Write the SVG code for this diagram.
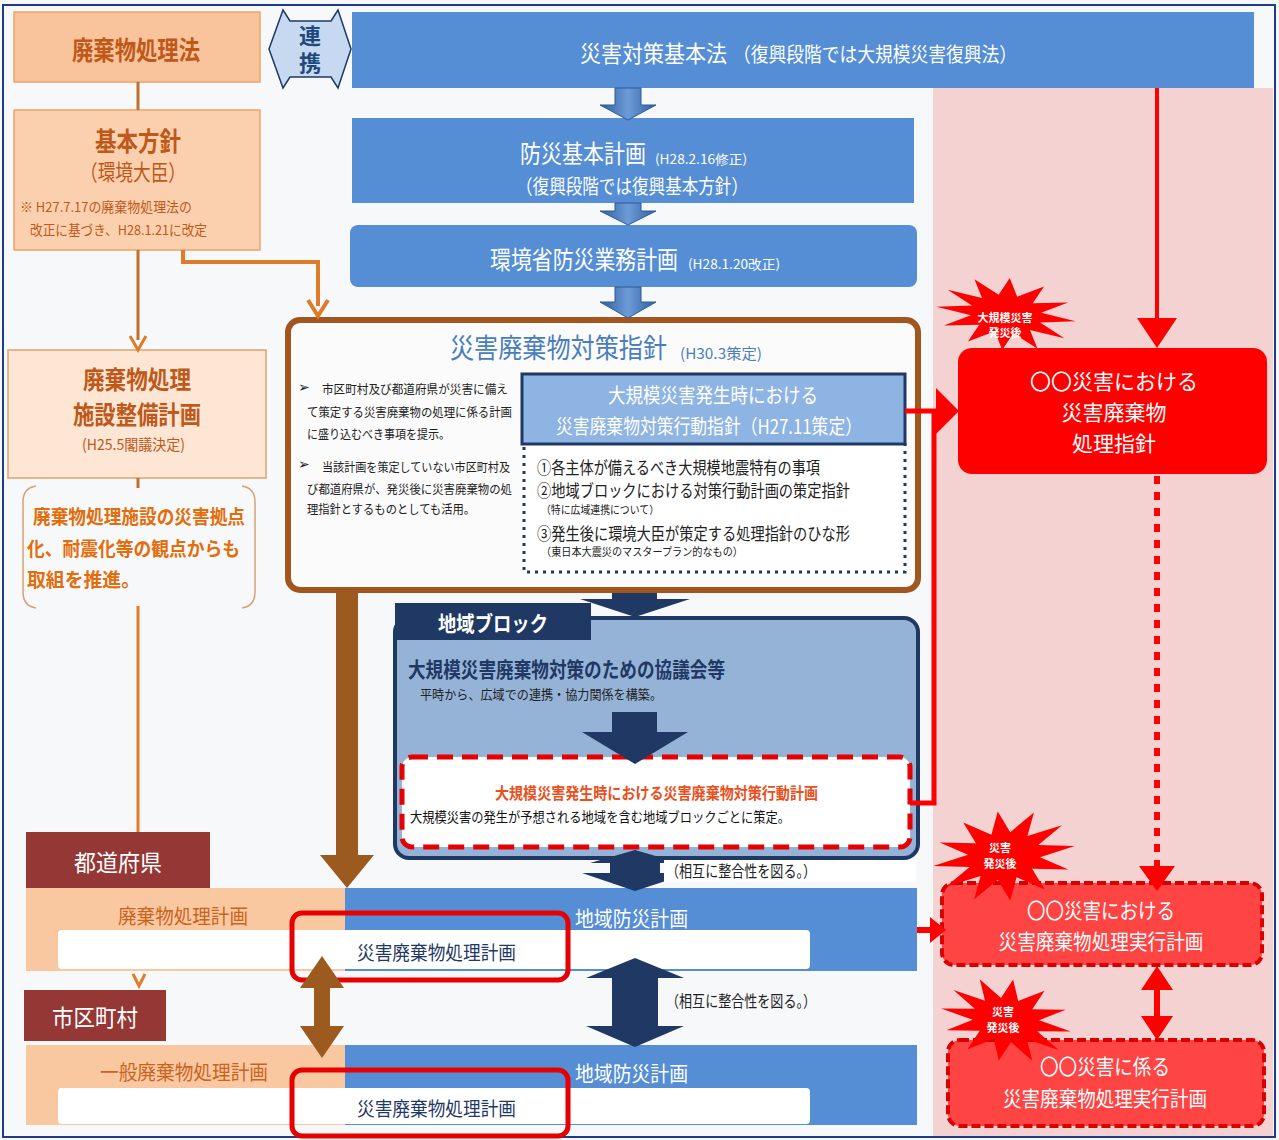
<svg xmlns="http://www.w3.org/2000/svg" width="1279" height="1140" viewBox="0 0 1279 1140">
<defs>
<style>
text{font-family:"Noto Sans CJK JP","Noto Sans CJK SC","DejaVu Sans",sans-serif;dominant-baseline:central}
.w{fill:#fff}
.bd{font-weight:bold}
.m{text-anchor:middle}
.or{fill:#c0581a}
.dk{fill:#222}
.nv{fill:#1f3864}
.blue{fill:#558ed5}
.peachband{fill:#fac8a0}
.pref{fill:#953735}
.redrr{fill:none;stroke:#e60000;stroke-width:5}
.burst{fill:#f00}
.rdash{fill:#f44;stroke:#d80000;stroke-width:4;stroke-dasharray:9 4}
.vert{writing-mode:vertical-rl;letter-spacing:5px}
</style>
<linearGradient id="ba" x1="0" x2="1" y1="0" y2="0"><stop offset="0" stop-color="#2f5f9f"/><stop offset="0.5" stop-color="#6d9bd8"/><stop offset="1" stop-color="#2f5f9f"/></linearGradient>
<path id="star" d="M70,0 L34.8,5.2 L60.6,19 L25.5,14.1 L35,32.9 L9.3,19.3 L0,38 L-9.3,19.3 L-35,32.9 L-25.5,14.1 L-60.6,19 L-34.8,5.2 L-70,0 L-34.8,-5.2 L-60.6,-19 L-25.5,-14.1 L-35,-32.9 L-9.3,-19.3 L0,-38 L9.3,-19.3 L35,-32.9 L25.5,-14.1 L60.6,-19 L34.8,-5.2 Z"/>
</defs>

<rect x="0" y="0" width="1279" height="1140" fill="#f7f8fa"/>
<rect x="933" y="88" width="340" height="1050" fill="#f5d2d2"/>
<rect x="3" y="5" width="1272" height="1132" fill="none" stroke="#1f3b8a" stroke-width="2"/>

<g id="haikibutsu-ho">
<rect x="14" y="12" width="246" height="70" fill="#f9c49b" stroke="#eda468" stroke-width="1.5"/>
<text x="72" y="48" class="or bd" font-size="26" textLength="128" lengthAdjust="spacingAndGlyphs">廃棄物処理法</text>
</g>

<g id="renkei">
<path d="M269,49 L283,10 L290,21 L331,21 L338,10 L351,49 L338,88 L331,77 L290,77 L283,88 Z" fill="#c6d9f1" stroke="#1f3864" stroke-width="1.5"/>
<text x="310" y="25" class="vert bd" font-size="22" fill="#1f497d">連携</text>
</g>

<g id="saigai-taisaku-kihonho">
<rect x="352" y="12" width="902" height="76" class="blue"/>
<text transform="translate(580,52) scale(1,1.08)" class="w" font-size="21" textLength="147" lengthAdjust="spacingAndGlyphs">災害対策基本法</text>
<text x="733" y="53" class="w" font-size="20" textLength="284" lengthAdjust="spacingAndGlyphs">（復興段階では大規模災害復興法）</text>
</g>

<g id="bousai-kihon-keikaku">
<rect x="352" y="118" width="562" height="85" class="blue"/>
<text transform="translate(520,152) scale(1,1.18)" class="w" font-size="21" textLength="126" lengthAdjust="spacingAndGlyphs">防災基本計画</text>
<text x="655" y="158" class="w" font-size="13" textLength="92" lengthAdjust="spacingAndGlyphs">(H28.2.16修正)</text>
<text x="516" y="185" class="w" font-size="20" textLength="232" lengthAdjust="spacingAndGlyphs">（復興段階では復興基本方針）</text>
</g>

<g id="kankyosho-bousai-gyomu-keikaku">
<rect x="350" y="225" width="567" height="62" rx="8" class="blue"/>
<text transform="translate(490,258) scale(1,1.19)" class="w" font-size="21" textLength="188" lengthAdjust="spacingAndGlyphs">環境省防災業務計画</text>
<text x="688" y="263" class="w" font-size="13" textLength="92" lengthAdjust="spacingAndGlyphs">(H28.1.20改正)</text>
</g>

<g id="kihon-houshin">
<rect x="14" y="110" width="246" height="140" fill="#fbd0ae" stroke="#eda468" stroke-width="1.5"/>
<text x="95" y="139" class="or bd" font-size="26" textLength="86" lengthAdjust="spacingAndGlyphs">基本方針</text>
<text x="80" y="170" class="or" font-size="22" textLength="106" lengthAdjust="spacingAndGlyphs">（環境大臣）</text>
<text x="20" y="206" class="or" font-size="13.5" textLength="172" lengthAdjust="spacingAndGlyphs">※ H27.7.17の廃棄物処理法の</text>
<text x="30" y="229" class="or" font-size="13.5" textLength="177" lengthAdjust="spacingAndGlyphs">改正に基づき、H28.1.21に改定</text>
</g>

<g id="shisetsu-seibi-keikaku">
<rect x="8" y="350" width="258" height="128" fill="#fde6d4" stroke="#e0a070" stroke-width="1.5"/>
<text x="83" y="378" class="or bd" font-size="25" textLength="108" lengthAdjust="spacingAndGlyphs">廃棄物処理</text>
<text x="73" y="413" class="or bd" font-size="25" textLength="128" lengthAdjust="spacingAndGlyphs">施設整備計画</text>
<text x="82" y="443" class="or" font-size="15" textLength="103" lengthAdjust="spacingAndGlyphs">(H25.5閣議決定)</text>
</g>

<g id="shisetsu-note">
<path d="M36,486 Q23,488 23,502 V592 Q23,606 36,608" fill="none" stroke="#d9a070" stroke-width="1.5"/>
<path d="M242,486 Q255,488 255,502 V592 Q255,606 242,608" fill="none" stroke="#d9a070" stroke-width="1.5"/>
<text x="33" y="515" class="bd" fill="#e46c0a" font-size="19" textLength="212" lengthAdjust="spacingAndGlyphs">廃棄物処理施設の災害拠点</text>
<text x="27" y="547" class="bd" fill="#e46c0a" font-size="19" textLength="213" lengthAdjust="spacingAndGlyphs">化、耐震化等の観点からも</text>
<text x="27" y="578" class="bd" fill="#e46c0a" font-size="19" textLength="113" lengthAdjust="spacingAndGlyphs">取組を推進。</text>
</g>

<g id="saigai-haikibutsu-taisaku-shishin">
<rect x="288" y="320" width="630" height="270" rx="12" fill="#fbfbfc" stroke="#a0561e" stroke-width="6"/>
<text transform="translate(450,346) scale(1,1.16)" font-size="24" fill="#4a7ebb" textLength="217" lengthAdjust="spacingAndGlyphs">災害廃棄物対策指針</text>
<text x="680" y="352" font-size="15" fill="#4a7ebb" textLength="82" lengthAdjust="spacingAndGlyphs">(H30.3策定)</text>
<text x="298" y="386" class="dk" font-size="14">➢</text>
<text x="322" y="388" class="dk" font-size="12.5" textLength="186" lengthAdjust="spacingAndGlyphs">市区町村及び都道府県が災害に備え</text>
<text x="307" y="411" class="dk" font-size="12.5" textLength="205" lengthAdjust="spacingAndGlyphs">て策定する災害廃棄物の処理に係る計画</text>
<text x="307" y="433" class="dk" font-size="12.5" textLength="143" lengthAdjust="spacingAndGlyphs">に盛り込むべき事項を提示。</text>
<text x="298" y="463" class="dk" font-size="14">➢</text>
<text x="322" y="466" class="dk" font-size="12.5" textLength="188" lengthAdjust="spacingAndGlyphs">当該計画を策定していない市区町村及</text>
<text x="307" y="488" class="dk" font-size="12.5" textLength="205" lengthAdjust="spacingAndGlyphs">び都道府県が、発災後に災害廃棄物の処</text>
<text x="307" y="508" class="dk" font-size="12.5" textLength="168" lengthAdjust="spacingAndGlyphs">理指針とするものとしても活用。</text>
</g>

<g id="koudou-shishin-items">
<rect x="524" y="440" width="381" height="132" fill="#fff" stroke="#1f3864" stroke-width="3" stroke-dasharray="3 5"/>
<text x="537" y="466" class="dk" font-size="17" textLength="283" lengthAdjust="spacingAndGlyphs">①各主体が備えるべき大規模地震特有の事項</text>
<text x="537" y="489" class="dk" font-size="17" textLength="313" lengthAdjust="spacingAndGlyphs">②地域ブロックにおける対策行動計画の策定指針</text>
<text x="541" y="509" class="dk" font-size="11" textLength="118" lengthAdjust="spacingAndGlyphs">（特に広域連携について）</text>
<text x="537" y="532" class="dk" font-size="17" textLength="313" lengthAdjust="spacingAndGlyphs">③発生後に環境大臣が策定する処理指針のひな形</text>
<text x="541" y="551" class="dk" font-size="11" textLength="202" lengthAdjust="spacingAndGlyphs">（東日本大震災のマスタープラン的なもの）</text>
</g>

<g id="koudou-shishin">
<rect x="522" y="374" width="383" height="70" fill="#8eb4e3" stroke="#1f3864" stroke-width="3"/>
<text x="608" y="394" class="w" font-size="20" textLength="210" lengthAdjust="spacingAndGlyphs">大規模災害発生時における</text>
<text x="556" y="425" class="w" font-size="20" textLength="306" lengthAdjust="spacingAndGlyphs">災害廃棄物対策行動指針（H27.11策定）</text>
</g>

<g id="chiiki-block">
<rect x="395" y="618" width="523" height="240" rx="14" fill="#95b3d7" stroke="#1f3864" stroke-width="4"/>
<rect x="395" y="603" width="196" height="37" fill="#1f3864"/>
<text x="438" y="622" class="w bd" font-size="21" textLength="110" lengthAdjust="spacingAndGlyphs">地域ブロック</text>
<text x="408" y="668" class="nv bd" font-size="21" textLength="317" lengthAdjust="spacingAndGlyphs">大規模災害廃棄物対策のための協議会等</text>
<text x="420" y="693" class="dk" font-size="13" textLength="242" lengthAdjust="spacingAndGlyphs">平時から、広域での連携・協力関係を構築。</text>
</g>

<g id="koudou-keikaku">
<rect x="402" y="757" width="508" height="90" rx="10" fill="#fff" stroke="#e60000" stroke-width="5" stroke-dasharray="16 9"/>
<text x="495" y="792" class="bd" fill="#e8501e" font-size="16" textLength="323" lengthAdjust="spacingAndGlyphs">大規模災害発生時における災害廃棄物対策行動計画</text>
<text x="410" y="816" fill="#111" font-size="14" textLength="380" lengthAdjust="spacingAndGlyphs">大規模災害の発生が予想される地域を含む地域ブロックごとに策定。</text>
</g>

<g id="todoufuken">
<rect x="26" y="832" width="184" height="56" class="pref"/>
<text x="118" y="861" class="w m" font-size="23" textLength="88" lengthAdjust="spacingAndGlyphs">都道府県</text>
</g>

<g id="todoufuken-band">
<rect x="26" y="888" width="319" height="83" class="peachband"/>
<rect x="345" y="888" width="572" height="83" class="blue"/>
<rect x="58" y="930" width="752" height="39" rx="4" fill="#fff"/>
<text x="118" y="915" fill="#c8641e" font-size="20" textLength="130" lengthAdjust="spacingAndGlyphs">廃棄物処理計画</text>
<text x="575" y="917" class="w" font-size="21" textLength="113" lengthAdjust="spacingAndGlyphs">地域防災計画</text>
</g>

<g id="todoufuken-saigai-keikaku">
<rect x="292" y="913" width="276" height="67" rx="10" class="redrr"/>
<text x="357" y="951" class="nv" font-size="19" textLength="159" lengthAdjust="spacingAndGlyphs">災害廃棄物処理計画</text>
</g>

<g id="shikuchoson">
<rect x="24" y="990" width="142" height="51" class="pref"/>
<text x="95" y="1016" class="w m" font-size="23" textLength="86" lengthAdjust="spacingAndGlyphs">市区町村</text>
</g>

<g id="shikuchoson-band">
<rect x="26" y="1045" width="319" height="80" class="peachband"/>
<rect x="345" y="1045" width="572" height="80" class="blue"/>
<rect x="58" y="1088" width="752" height="36" rx="4" fill="#fff"/>
<text x="100" y="1071" fill="#c8641e" font-size="20" textLength="168" lengthAdjust="spacingAndGlyphs">一般廃棄物処理計画</text>
<text x="575" y="1072" class="w" font-size="21" textLength="113" lengthAdjust="spacingAndGlyphs">地域防災計画</text>
</g>

<g id="shikuchoson-saigai-keikaku">
<rect x="292" y="1070" width="276" height="66" rx="10" class="redrr"/>
<text x="357" y="1107" class="nv" font-size="19" textLength="159" lengthAdjust="spacingAndGlyphs">災害廃棄物処理計画</text>
</g>

<g id="shori-shishin">
<rect x="958" y="348" width="309" height="126" rx="14" fill="#f00"/>
<text class="w m" font-size="21"><tspan x="1114" y="380">〇〇災害における</tspan><tspan x="1114" y="411">災害廃棄物</tspan><tspan x="1114" y="442">処理指針</tspan></text>
</g>

<g id="burst-1">
<use href="#star" class="burst" transform="translate(1006,314) rotate(6) scale(1,0.95)"/>
<text x="1005" y="317" class="w m bd" font-size="11">大規模災害</text>
<text x="1005" y="332" class="w m bd" font-size="11">発災後</text>
</g>

<g id="jikkou-keikaku-1">
<rect x="942" y="883" width="320" height="82" rx="12" class="rdash"/>
<text x="1101" y="909" class="w m" font-size="21" textLength="148" lengthAdjust="spacingAndGlyphs">〇〇災害における</text>
<text x="1101" y="940" class="w m" font-size="21" textLength="205" lengthAdjust="spacingAndGlyphs">災害廃棄物処理実行計画</text>
</g>

<g id="jikkou-keikaku-2">
<rect x="948" y="1040" width="316" height="86" rx="12" class="rdash"/>
<text x="1105" y="1065" class="w m" font-size="21" textLength="130" lengthAdjust="spacingAndGlyphs">〇〇災害に係る</text>
<text x="1105" y="1097" class="w m" font-size="21" textLength="204" lengthAdjust="spacingAndGlyphs">災害廃棄物処理実行計画</text>
</g>

<g id="burst-2">
<use href="#star" class="burst" transform="translate(1004,856) rotate(-8) scale(1.02,1.18)"/>
<text x="1000" y="847" class="w m bd" font-size="11">災害</text>
<text x="1000" y="863" class="w m bd" font-size="11">発災後</text>
</g>

<g id="burst-3">
<use href="#star" class="burst" transform="translate(1006,1020) rotate(10) scale(0.94,1.08)"/>
<text x="1003" y="1011" class="w m bd" font-size="11">災害</text>
<text x="1003" y="1027" class="w m bd" font-size="11">発災後</text>
</g>

<g id="connectors">
<line x1="138" y1="82" x2="138" y2="110" stroke="#c0702a" stroke-width="3"/>
<line x1="138" y1="250" x2="138" y2="340" stroke="#c0702a" stroke-width="3"/>
<path d="M130,336 L138,350 L146,336" fill="none" stroke="#e07b28" stroke-width="3"/>
<polyline points="183,250 183,262 318,262 318,306" fill="none" stroke="#e07b28" stroke-width="4"/>
<path d="M308,300 L318,316 L328,300" fill="none" stroke="#e07b28" stroke-width="4"/>
<line x1="138" y1="478" x2="138" y2="488" stroke="#c0702a" stroke-width="3"/>
<line x1="138" y1="606" x2="138" y2="832" stroke="#e07b28" stroke-width="3"/>
<path d="M133,974 L139,986 L145,974" fill="none" stroke="#e07b28" stroke-width="3"/>
<path d="M615,88 L641,88 L641,105 L656,105 L628,120 L600,105 L615,105 Z" fill="url(#ba)" stroke="#2d5a96" stroke-width="1"/>
<path d="M615,203 L641,203 L641,211 L656,211 L628,225 L600,211 L615,211 Z" fill="url(#ba)" stroke="#2d5a96" stroke-width="1"/>
<path d="M615,287 L641,287 L641,302 L656,302 L628,318 L600,302 L615,302 Z" fill="url(#ba)" stroke="#2d5a96" stroke-width="1"/>
<path d="M612,593 L657,593 L657,599 L690,599 L635,617 L580,599 L612,599 Z" fill="#1f3864"/>
<path d="M612,712 L657,712 L657,732 L688,732 L635,764 L582,732 L612,732 Z" fill="#1f3864"/>
<path d="M635,850 L680,863 L660,863 L660,873 L690,873 L635,891 L582,873 L610,873 L610,863 L590,863 Z" fill="#1f3864"/>
<path d="M635,958 L684,978 L658,978 L658,1026 L684,1026 L635,1047 L586,1026 L612,1026 L612,978 L586,978 Z" fill="#1f3864"/>
<rect x="664" y="860" width="252" height="22" fill="#fff"/>
<text x="666" y="870" class="dk" font-size="16" textLength="150" lengthAdjust="spacingAndGlyphs">（相互に整合性を図る。）</text>
<text x="666" y="1000" class="dk" font-size="16" textLength="150" lengthAdjust="spacingAndGlyphs">（相互に整合性を図る。）</text>
<path d="M336,593 L358,593 L358,855 L374,855 L347,888 L320,855 L336,855 Z" fill="#9c5a1e"/>
<path d="M322,956 L344,988 L330,988 L330,1026 L344,1026 L322,1058 L300,1026 L314,1026 L314,988 L300,988 Z" fill="#9c5a1e"/>
<line x1="1157" y1="88" x2="1157" y2="322" stroke="#f00" stroke-width="4"/>
<path d="M1137,318 L1177,318 L1157,348 Z" fill="#f00"/>
<path d="M905,411 H938 M910,803 H934 V409" fill="none" stroke="#f00" stroke-width="5"/>
<path d="M936,388 L959,411 L936,434 Z" fill="#f00"/>
<line x1="1157" y1="476" x2="1157" y2="868" stroke="#f00" stroke-width="6" stroke-dasharray="8 8"/>
<path d="M1139,866 L1175,866 L1157,891 Z" fill="#f00"/>
<line x1="917" y1="930" x2="932" y2="930" stroke="#f00" stroke-width="6"/>
<path d="M930,917 L946,930 L930,943 Z" fill="#f00"/>
<path d="M1157,966 L1173,990 L1160,990 L1160,1016 L1173,1016 L1157,1040 L1141,1016 L1154,1016 L1154,990 L1141,990 Z" fill="#f00"/>
</g>
</svg>
